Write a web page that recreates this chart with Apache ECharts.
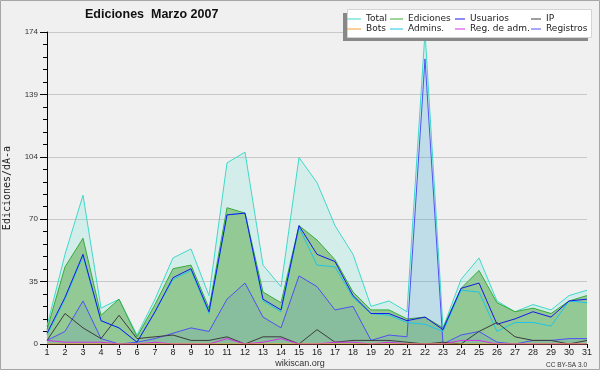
<!DOCTYPE html>
<html><head><meta charset="utf-8">
<script src="https://cdn.jsdelivr.net/npm/echarts@6/dist/echarts.min.js"></script>
<style>html,body{margin:0;padding:0;background:#f0f0f0}#c{width:600px;height:370px}</style>
</head><body><div id="c"></div>
<script>
const days = ['1','2','3','4','5','6','7','8','9','10','11','12','13','14','15','16','17','18','19','20','21','22','23','24','25','26','27','28','29','30','31'];
const total     = [10,50,83,20,25,5,25,48,53,27,101,107,44,32,104,90,66,50,21,24,18,174,9,36,48,24,18,22,19,27,30];
const ediciones = [8,43,59,16,25,4,22,42,44,20,76,73,29,23,66,58,47,29,19,19,14,15,9,31,41,23,18,20,17,24,27];
const usuarios  = [6,26,50,13,9,1,18,37,42,18,72,73,25,19,66,50,46,27,17,17,13,15,8,31,34,11,14,18,15,24,25];
const ip        = [2,17,9,3,16,3,4,5,2,2,4,0,4,4,0,8,1,2,2,2,1,0,1,0,7,12,4,2,2,0,2];
const bots      = [0,0,0,0,0,0,0,0,0,0,0,0,0,0,0,0,0,0,0,0,0,0,0,0,0,0,0,0,0,0,0];
const admins    = [5,25,49,13,9,1,18,36,41,17,72,73,24,18,65,44,43,26,17,16,12,11,7,30,29,7,12,12,10,24,23];
const regAdm    = [2,1,1,1,0,0,1,0,0,0,3,0,1,3,0,0,1,1,0,1,0,0,0,2,2,0,0,0,0,0,0];
const registros = [2,7,24,3,0,1,3,6,9,7,25,34,15,9,38,32,19,21,2,5,4,159,0,5,7,1,0,2,2,3,3];
const yTickLabels = ['0','35','70','104','139','174'];

const chart = echarts.init(document.getElementById('c'), null, {renderer:'canvas'});
function area(name, data, fill){
  return {type:'line', name:name, data:data, symbol:'none', z:1, silent:true,
    lineStyle:{width:0, opacity:0}, areaStyle:{color:fill, opacity:1}};
}
function line(name, data, color){
  return {type:'line', name:name, data:data, symbol:'none', z:2, silent:true, color:color,
    itemStyle:{color:color}, lineStyle:{width:1, color:color}};
}
const legendCommon = {orient:'vertical', top:14, itemHeight:1, itemGap:0, padding:0,
  icon:'rect', z:10, selectedMode:false,
  textStyle:{fontFamily:'DejaVu Sans', fontSize:9, lineHeight:10, color:'#222'}};
chart.setOption({
  animation:false,
  backgroundColor:'#f0f0f0',
  title:[
    {text:'Ediciones  Marzo 2007', left:85, top:8, padding:0,
     textStyle:{fontFamily:'Liberation Sans', fontWeight:'bold', fontSize:12.5, color:'#111'}},
    {text:'wikiscan.org', left:'center', top:359, padding:0,
     textStyle:{fontFamily:'Liberation Sans', fontWeight:'normal', fontSize:9, color:'#333'}},
    {text:'CC BY-SA 3.0', right:13, top:362, padding:0,
     textStyle:{fontFamily:'Liberation Sans', fontWeight:'normal', fontSize:6.5, color:'#333'}}
  ],
  legend:[
    Object.assign({}, legendCommon, {data:['Total','Bots'], left:347, itemWidth:14}),
    Object.assign({}, legendCommon, {data:['Ediciones','Admins.'], left:390, itemWidth:13}),
    Object.assign({}, legendCommon, {data:['Usuarios','Reg. de adm.'], left:455, itemWidth:10}),
    Object.assign({}, legendCommon, {data:['IP','Registros'], left:531, itemWidth:10})
  ],
  grid:{left:47, right:13, top:32, bottom:26, containLabel:false, outerBoundsMode:'none'},
  xAxis:{type:'category', data:days, boundaryGap:false,
    axisLine:{lineStyle:{color:'#000', width:1}},
    axisTick:{length:4, lineStyle:{color:'#000'}, interval:0},
    axisLabel:{interval:0, margin:4, fontFamily:'Liberation Sans', fontSize:9, color:'#222'},
    splitLine:{show:false}},
  yAxis:{type:'value', min:0, max:174, interval:34.8,
    name:'Ediciones/dÃ-a', nameLocation:'middle', nameGap:35, nameRotate:90,
    nameTextStyle:{fontFamily:'DejaVu Sans Mono', fontSize:10, color:'#222'},
    axisLine:{show:true, lineStyle:{color:'#000', width:1}},
    axisTick:{show:true, length:7, lineStyle:{color:'#000'}},
    minorTick:{show:true, splitNumber:5, length:4, lineStyle:{color:'#000'}},
    axisLabel:{margin:9, fontFamily:'Liberation Sans', fontSize:8, color:'#333',
      formatter:function(v){ return yTickLabels[Math.round(v/34.8)]; }},
    splitLine:{show:true, lineStyle:{color:'#c8c8c8', width:1}}},
  series:[
    area('Total_area', total, 'rgba(64,224,208,0.16)'),
    area('Ediciones_area', ediciones, '#93c994'),
    area('Registros_area', registros, 'rgba(60,110,230,0.13)'),
    line('Total', total, '#3fd9c9'),
    line('Ediciones', ediciones, '#3aab3a'),
    line('Registros', registros, '#5050f5'),
    line('Admins.', admins, '#20c4e6'),
    line('Usuarios', usuarios, '#1818e8'),
    line('IP', ip, '#3c3c3c'),
    line('Reg. de adm.', regAdm, '#d22ee6'),
    line('Bots', bots, '#ff9a2e')
  ],
  graphic:[
    {type:'rect', z:5, silent:true, shape:{x:343, y:13, width:245, height:28}, style:{fill:'#888'}},
    {type:'rect', z:6, silent:true, shape:{x:347.5, y:9.5, width:244, height:28}, style:{fill:'#fff', stroke:'#d4d4d4', lineWidth:1}},
    {type:'rect', z:100, silent:true, shape:{x:0.5, y:0.5, width:599, height:369}, style:{fill:'none', stroke:'#a6a6a6', lineWidth:1}}
  ]
});
</script></body></html>
